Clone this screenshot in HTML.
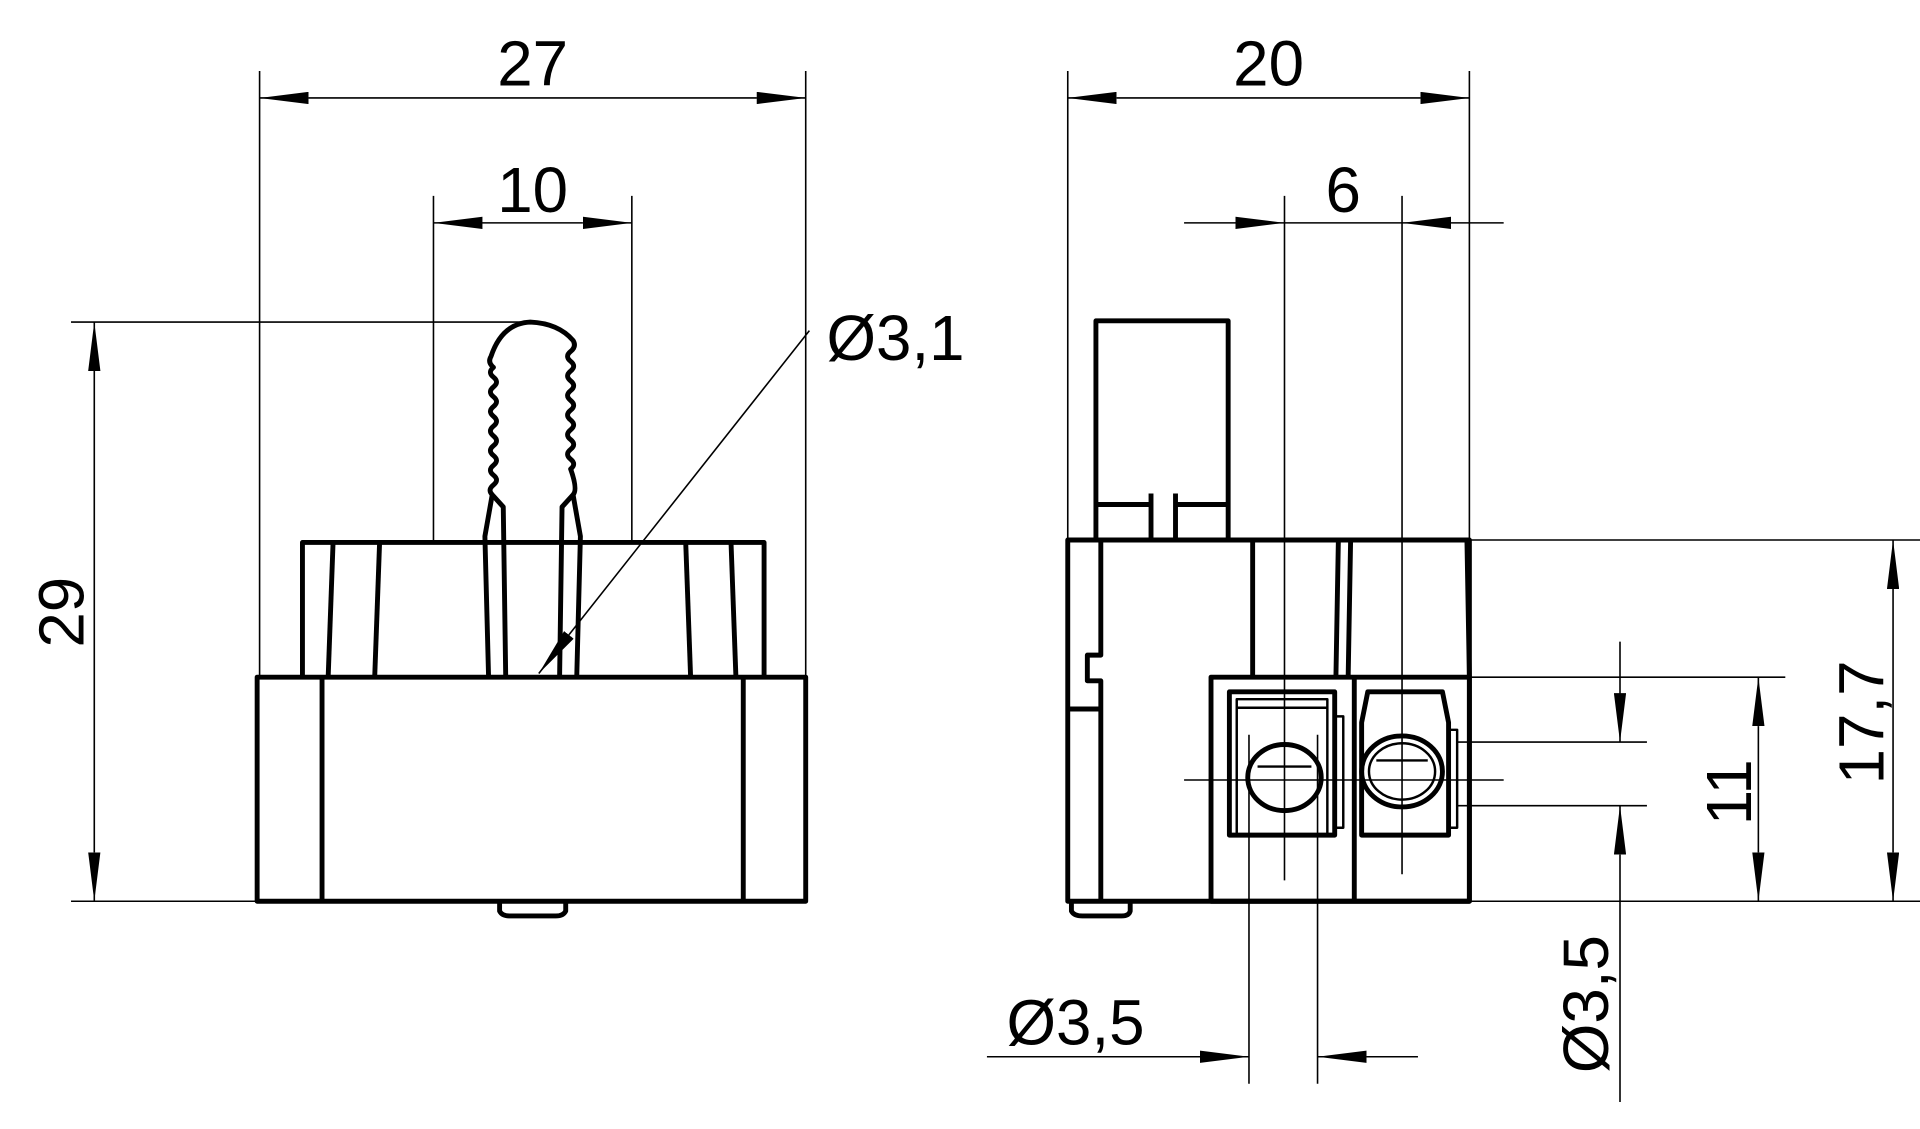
<!DOCTYPE html>
<html><head><meta charset="utf-8"><style>
html,body{margin:0;padding:0;background:#fff;}
svg{display:block;}
text{font-family:"Liberation Sans",sans-serif;fill:#000;}
</style></head><body>
<svg width="1920" height="1129" viewBox="0 0 1568 922" preserveAspectRatio="none" xmlns="http://www.w3.org/2000/svg">
<defs>
<marker id="a" viewBox="0 0 40 10" refX="40" refY="5" markerWidth="40" markerHeight="10" markerUnits="userSpaceOnUse" orient="auto"><path d="M0,0 L40,5 L0,10 Z" fill="#000"/></marker>
</defs>
<g fill="none" stroke="#000" stroke-width="4" stroke-linejoin="round">
<!-- left view body -->
<rect x="210" y="553" width="448" height="183"/>
<line x1="263" y1="553" x2="263" y2="736"/><line x1="607" y1="553" x2="607" y2="736"/>
<polyline points="247,553 247,443 624,443 624,553"/>
<line x1="272" y1="443" x2="268" y2="553"/><line x1="310" y1="443" x2="306" y2="553"/>
<line x1="560" y1="443" x2="564" y2="553"/><line x1="597" y1="443" x2="601" y2="553"/>
<path d="M408,736 L408,744 Q410,748 416,748 L454,748 Q460,748 462,744 L462,736"/>
<path d="M413,553 L411,414 L402,404 Q398,400 403,396 q5,-4 0,-8 q-5,-4 0,-8 q5,-4 0,-8 q-5,-4 0,-8 q5,-4 0,-8 q-5,-4 0,-8 q5,-4 0,-8 q-5,-4 0,-8 q5,-4 0,-8 q-5,-4 0,-8 q5,-4 0,-8 q-5,-4 0,-8 q-5,-4 -2,-9 Q410,264 433,263 Q456,264 468,278 q3,5 -2,9 q-5,4 0,8 q5,4 0,8 q-5,4 0,8 q5,4 0,8 q-5,4 0,8 q5,4 0,8 q-5,4 0,8 q5,4 0,8 q-5,4 0,8 q5,4 0,8 q-5,4 0,8 q5,4 0,8 Q472,400 468,404 L459,414 L457,553"/>
<path d="M402,404 L396,438 L399,553"/>
<path d="M468,404 L474,438 L471,553"/>
<!-- right view -->
<polyline points="895,441 895,262 1003,262 1003,441"/>
<polyline points="895,412 940,412"/><polyline points="960,412 1003,412"/>
<line x1="940" y1="403" x2="940" y2="441"/><line x1="960" y1="403" x2="960" y2="441"/>
<polyline points="1200,553 1198,441 1103,441 1101,553"/>
<polyline points="1091,553 1093,441 1023,441 1023,553"/>
<rect x="872" y="441" width="328" height="295"/>
<polyline points="899,441 899,535 888,535 888,556 899,556 899,736"/>
<line x1="872" y1="579" x2="899" y2="579"/>
<path d="M875,736 L875,744 Q877,748 884,748 L916,748 Q922,748 923,744 L923,736"/>
<rect x="989" y="553" width="211" height="183"/>
<line x1="1106" y1="553" x2="1106" y2="736"/>
<rect x="1004" y="565" width="86" height="117"/>
<polyline points="1010,682 1010,571 1084,571 1084,682" stroke-width="2"/>
<line x1="1010" y1="578" x2="1084" y2="578" stroke-width="2"/>
<polyline points="1090,585 1097,585 1097,676 1090,676" stroke-width="2"/>
<ellipse cx="1049" cy="635" rx="30" ry="27"/>
<line x1="1027" y1="626" x2="1071" y2="626" stroke-width="2"/>
<path d="M1112,682 L1112,590 L1117,565 L1178,565 L1183,590 L1183,682 Z"/>
<polyline points="1183,596 1190,596 1190,676 1183,676" stroke-width="2"/>
<ellipse cx="1145" cy="630" rx="33" ry="29"/>
<ellipse cx="1145" cy="630" rx="27" ry="23" stroke-width="2"/>
<line x1="1124" y1="621" x2="1166" y2="621" stroke-width="2"/>
</g>
<g fill="none" stroke="#000" stroke-width="1.3">
<line x1="212" y1="58" x2="212" y2="553"/><line x1="658" y1="58" x2="658" y2="553"/>
<line x1="252" y1="80" x2="212" y2="80" marker-end="url(#a)"/>
<line x1="252" y1="80" x2="618" y2="80"/>
<line x1="618" y1="80" x2="658" y2="80" marker-end="url(#a)"/>
<line x1="354" y1="160" x2="354" y2="441"/><line x1="516" y1="160" x2="516" y2="441"/>
<line x1="394" y1="182" x2="354" y2="182" marker-end="url(#a)"/>
<line x1="394" y1="182" x2="476" y2="182"/>
<line x1="476" y1="182" x2="516" y2="182" marker-end="url(#a)"/>
<line x1="58" y1="263" x2="430" y2="263"/><line x1="58" y1="736" x2="212" y2="736"/>
<line x1="77" y1="303" x2="77" y2="263" marker-end="url(#a)"/>
<line x1="77" y1="303" x2="77" y2="696"/>
<line x1="77" y1="696" x2="77" y2="736" marker-end="url(#a)"/>
<line x1="661" y1="270" x2="465" y2="518"/>
<line x1="465" y1="518" x2="440" y2="550" marker-end="url(#a)"/>
<line x1="872" y1="58" x2="872" y2="441"/><line x1="1200" y1="58" x2="1200" y2="441"/>
<line x1="912" y1="80" x2="872" y2="80" marker-end="url(#a)"/>
<line x1="912" y1="80" x2="1160" y2="80"/>
<line x1="1160" y1="80" x2="1200" y2="80" marker-end="url(#a)"/>
<line x1="1049" y1="160" x2="1049" y2="719"/><line x1="1145" y1="160" x2="1145" y2="714"/>
<line x1="967" y1="182" x2="1009" y2="182"/>
<line x1="1009" y1="182" x2="1049" y2="182" marker-end="url(#a)"/>
<line x1="1049" y1="182" x2="1145" y2="182"/>
<line x1="1185" y1="182" x2="1145" y2="182" marker-end="url(#a)"/>
<line x1="1185" y1="182" x2="1228" y2="182"/>
<line x1="967" y1="637" x2="1228" y2="637"/>
<line x1="1190" y1="606" x2="1345" y2="606"/><line x1="1190" y1="658" x2="1345" y2="658"/>
<line x1="1323" y1="524" x2="1323" y2="566"/>
<line x1="1323" y1="566" x2="1323" y2="606" marker-end="url(#a)"/>
<line x1="1323" y1="698" x2="1323" y2="658" marker-end="url(#a)"/>
<line x1="1323" y1="698" x2="1323" y2="900"/>
<line x1="1190" y1="441" x2="1568" y2="441"/>
<line x1="1200" y1="553" x2="1458" y2="553"/>
<line x1="1200" y1="736" x2="1568" y2="736"/>
<line x1="1436" y1="593" x2="1436" y2="553" marker-end="url(#a)"/>
<line x1="1436" y1="593" x2="1436" y2="696"/>
<line x1="1436" y1="696" x2="1436" y2="736" marker-end="url(#a)"/>
<line x1="1546" y1="481" x2="1546" y2="441" marker-end="url(#a)"/>
<line x1="1546" y1="481" x2="1546" y2="696"/>
<line x1="1546" y1="696" x2="1546" y2="736" marker-end="url(#a)"/>
<line x1="1020" y1="600" x2="1020" y2="885"/><line x1="1076" y1="600" x2="1076" y2="885"/>
<line x1="806" y1="863" x2="980" y2="863"/>
<line x1="980" y1="863" x2="1020" y2="863" marker-end="url(#a)"/>
<line x1="1116" y1="863" x2="1076" y2="863" marker-end="url(#a)"/>
<line x1="1116" y1="863" x2="1158" y2="863"/>
</g>
<g font-size="52">
<text x="435" y="70" text-anchor="middle">27</text>
<text x="435" y="173" text-anchor="middle">10</text>
<text x="1036" y="70" text-anchor="middle">20</text>
<text x="1097" y="173" text-anchor="middle">6</text>
<text x="675" y="294">Ø3,1</text>
<text x="822" y="853">Ø3,5</text>
<text transform="translate(68,500) rotate(-90)" text-anchor="middle">29</text>
<text transform="translate(1430,647) rotate(-90)" text-anchor="middle">11</text>
<text transform="translate(1538,590) rotate(-90)" text-anchor="middle">17,7</text>
<text transform="translate(1313,820) rotate(-90)" text-anchor="middle">Ø3,5</text>
</g>
</svg>
</body></html>
